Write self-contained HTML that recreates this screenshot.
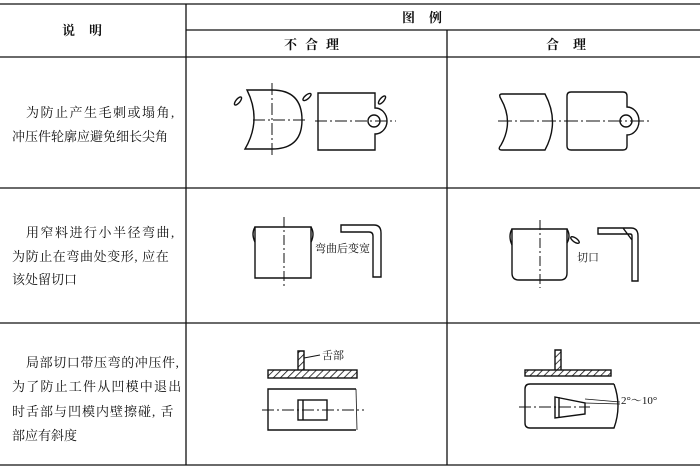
<!DOCTYPE html>
<html><head><meta charset="utf-8"><style>
html,body{margin:0;padding:0;background:#fff;}
svg{display:block;}
text{font-family:"Liberation Serif","Noto Serif CJK SC","Noto Sans CJK SC",serif;fill:#111;}
</style></head><body>
<svg width="700" height="469" viewBox="0 0 700 469" xmlns="http://www.w3.org/2000/svg">
<defs>
<pattern id="h" width="5" height="5" patternUnits="userSpaceOnUse" patternTransform="rotate(45)">
<line x1="0" y1="0" x2="0" y2="5" stroke="#111" stroke-width="1.6"/></pattern>
</defs>
<g stroke="#111" stroke-width="1.3" fill="none">
<line x1="0" y1="4" x2="700" y2="4"/>
<line x1="186" y1="30" x2="700" y2="30"/>
<line x1="0" y1="57" x2="700" y2="57"/>
<line x1="0" y1="188" x2="700" y2="188"/>
<line x1="0" y1="323" x2="700" y2="323"/>
<line x1="0" y1="465" x2="700" y2="465"/>
<line x1="186" y1="4" x2="186" y2="465"/>
<line x1="447" y1="30" x2="447" y2="465"/>
</g>
<g font-size="13" font-weight="bold">
<text x="62" y="35" letter-spacing="14">说明</text>
<text x="402" y="22" letter-spacing="14">图例</text>
<text x="284" y="49" letter-spacing="8">不合理</text>
<text x="546" y="49" letter-spacing="14">合理</text>
</g>
<g font-size="13">
<text x="26" y="117" letter-spacing="1.5">为防止产生毛刺或塌角,</text>
<text x="12" y="141">冲压件轮廓应避免细长尖角</text>
<text x="26" y="237" letter-spacing="1.5">用窄料进行小半径弯曲,</text>
<text x="12" y="261" letter-spacing="0.6">为防止在弯曲处变形, 应在</text>
<text x="12" y="284">该处留切口</text>
<text x="26" y="367" letter-spacing="0.6">局部切口带压弯的冲压件,</text>
<text x="12" y="391" letter-spacing="1.2">为了防止工件从凹模中退出</text>
<text x="12" y="416" letter-spacing="1">时舌部与凹模内壁擦碰, 舌</text>
<text x="12" y="440">部应有斜度</text>
</g>
<g stroke="#111" stroke-width="1.4" fill="none">
<path d="M247 90 Q262 120 245 149 L272 149 Q302 149 302 120 Q302 90 272 90 Z"/>
<path d="M272 83 V157 M253 120 H307" stroke-width="1" stroke-dasharray="12 3 2 3"/>
<path d="M318 93 H375 V108 A12 13 0 0 1 375 134 V150 H318 Z"/>
<circle cx="374" cy="121" r="6"/>
<path d="M315 121 H396" stroke-width="1" stroke-dasharray="12 3 2 3"/>
<ellipse cx="238" cy="101" rx="2" ry="5" transform="rotate(40 238 101)"/>
<ellipse cx="307" cy="97" rx="2" ry="5" transform="rotate(50 307 97)"/>
<ellipse cx="382" cy="100" rx="2" ry="5" transform="rotate(40 382 100)"/>
<path d="M502 94 H545 Q560 122 545 150 H502 Q497 150 501 145 Q514 122 501 99 Q498 94 502 94 Z"/>
<path d="M571 92 H623 Q627 92 627 96 V107 A12 14 0 0 1 627 135 V146 Q627 150 623 150 H571 Q567 150 567 146 V96 Q567 92 571 92 Z"/>
<circle cx="626" cy="121" r="6"/>
<path d="M498 121 H652" stroke-width="1" stroke-dasharray="14 3 2 3"/>
<path d="M255 227 H311 V278 H255 Z"/>
<path d="M255 227 Q251 234 255 242 M311 227 Q315 234 311 242"/>
<path d="M284 217 V287" stroke-width="1" stroke-dasharray="10 3 2 3"/>
<path d="M341 225 H374 Q381 225 381 233 V277 H373 V236 Q373 232 369 232 H341 Z"/>
<path d="M512 229 H567 V273 Q567 280 560 280 H519 Q512 280 512 273 Z"/>
<path d="M512 229 Q508 236 512 245 M567 229 Q571 236 567 243"/>
<path d="M540 220 V288" stroke-width="1" stroke-dasharray="10 3 2 3"/>
<ellipse cx="575" cy="240" rx="2" ry="5" transform="rotate(-55 575 240)"/>
<path d="M598 228 H631 Q638 228 638 236 V281 H632 V236 Q632 234 630 234 H598 Z M623 228 L632 240"/>
<rect x="268" y="370" width="89" height="8" fill="url(#h)"/>
<path d="M298 370 V351 H304 V370" fill="url(#h)"/>
<path d="M304 358 L320 355" stroke-width="1"/>
<path d="M356 389 H268 V430 H356"/>
<path d="M356 389 L357 430" stroke-width="0.8"/>
<rect x="298" y="400" width="29" height="20"/><path d="M303 400 V420"/>
<path d="M262 410 H364" stroke-width="1" stroke-dasharray="12 3 2 3"/>
<rect x="525" y="370" width="86" height="6" fill="url(#h)"/>
<path d="M555 370 V350 H561 V370" fill="url(#h)"/>
<path d="M614 384 H530 Q525 384 525 389 V423 Q525 428 530 428 H614 Q622 406 614 384"/>
<path d="M555 397 L585 403 V414 L555 418 Z M559 397 V418"/>
<path d="M585 403 L620 404 M585 399 L620 402" stroke-width="0.8"/>
<path d="M519 407 H590" stroke-width="1" stroke-dasharray="12 3 2 3"/>
</g>
<g font-size="11">
<text x="315" y="252">弯曲后变宽</text>
<text x="577" y="261">切口</text>
<text x="322" y="359">舌部</text>
<text x="621" y="404">2°～10°</text>
</g>
</svg>
</body></html>
